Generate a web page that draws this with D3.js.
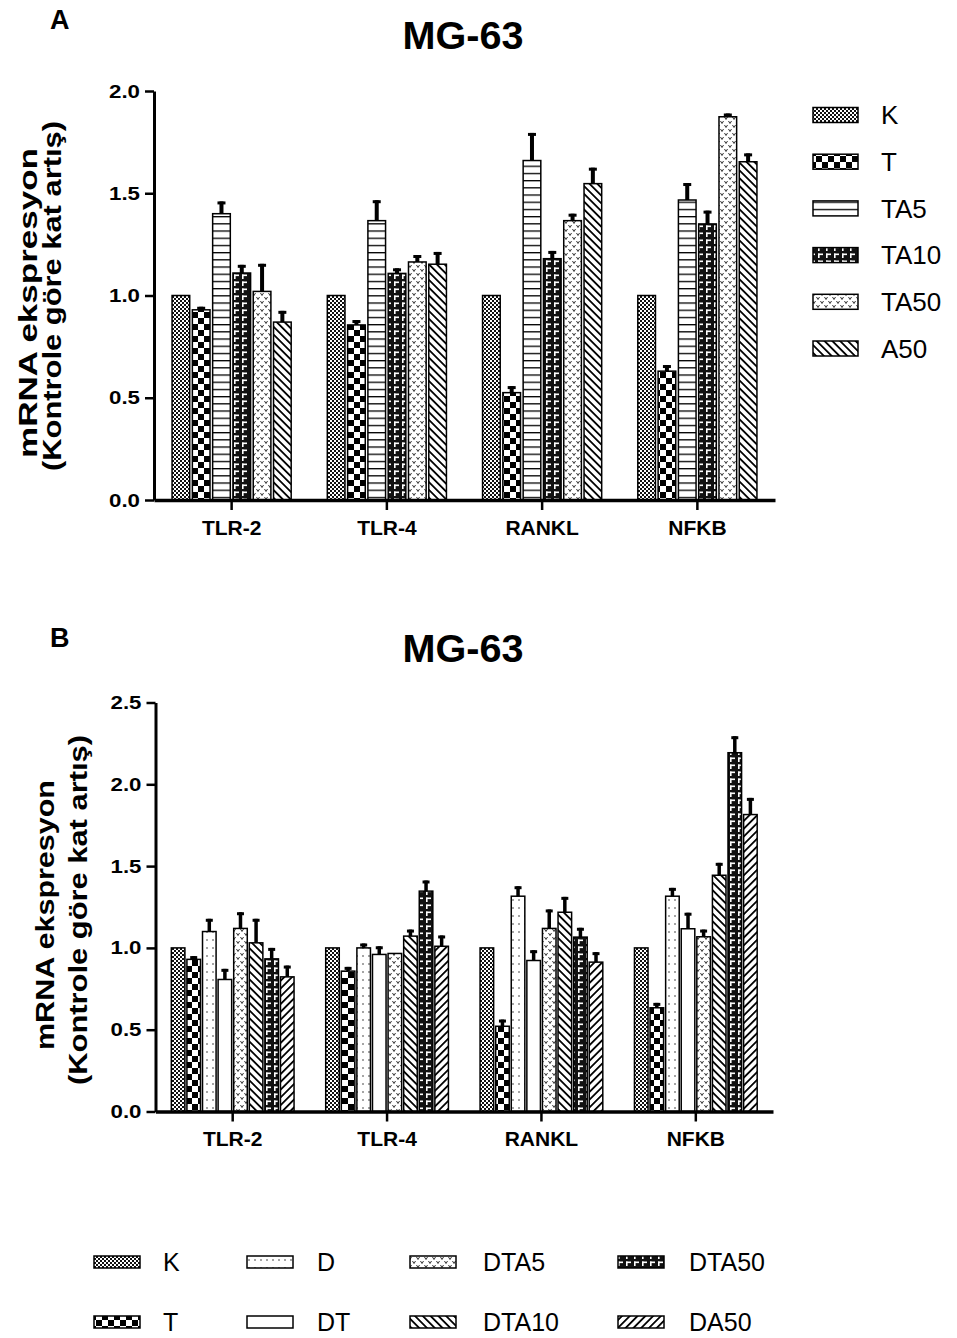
<!DOCTYPE html>
<html>
<head>
<meta charset="utf-8">
<script src="https://cdn.jsdelivr.net/npm/d3@7"></script>
<style>
  body { margin: 0; background: #fff; }
  svg { display: block; }
  text { font-family: Arial, "Liberation Sans", sans-serif; fill: #000; }
</style>
</head>
<body>
<div id="chart"></div>
<script>
const genes = ["TLR-2", "TLR-4", "RANKL", "NFKB"];

// panel A: series names, means and error (upper SEM)
const seriesA = ["K", "T", "TA5", "TA10", "TA50", "A50"];
const meanA_K    = [1, 1, 1, 1];
const meanA_T    = [0.93, 0.856, 0.525, 0.63];
const meanA_TA5  = [1.40, 1.366, 1.66, 1.467];
const meanA_TA10 = [1.11, 1.108, 1.18, 1.35];
const meanA_TA50 = [1.02, 1.164, 1.366, 1.874];
const meanA_A50  = [0.87, 1.153, 1.547, 1.654];
const errA_K    = [0, 0, 0, 0];
const errA_T    = [0.015, 0.024, 0.032, 0.03];
const errA_TA5  = [0.06, 0.10, 0.135, 0.083];
const errA_TA10 = [0.04, 0.025, 0.038, 0.065];
const errA_TA50 = [0.135, 0.034, 0.034, 0.016];
const errA_A50  = [0.055, 0.06, 0.078, 0.041];
const ticksA = [0, 0.5, 1.0, 1.5, 2.0];

// panel B
const seriesB = ["K", "T", "D", "DT", "DTA5", "DTA10", "DTA50", "DA50"];
const meanB_K     = [1, 1, 1, 1];
const meanB_T     = [0.93, 0.858, 0.521, 0.634];
const meanB_D     = [1.10, 1.0, 1.316, 1.316];
const meanB_DT    = [0.807, 0.96, 0.923, 1.117];
const meanB_DTA5  = [1.119, 0.966, 1.119, 1.068];
const meanB_DTA10 = [1.031, 1.072, 1.218, 1.444];
const meanB_DTA50 = [0.933, 1.347, 1.066, 2.193];
const meanB_DA50  = [0.823, 1.01, 0.913, 1.815];
const errB_K     = [0, 0, 0, 0];
const errB_T     = [0.02, 0.026, 0.041, 0.03];
const errB_D     = [0.078, 0.027, 0.061, 0.051];
const errB_DT    = [0.065, 0.05, 0.063, 0.098];
const errB_DTA5  = [0.099, 0, 0.116, 0.044];
const errB_DTA10 = [0.147, 0.04, 0.094, 0.076];
const errB_DTA50 = [0.067, 0.065, 0.057, 0.101];
const errB_DA50  = [0.069, 0.066, 0.061, 0.102];
const ticksB = [0, 0.5, 1.0, 1.5, 2.0, 2.5];

const title = "MG-63";
const yLabel1 = "mRNA ekspresyon";
const yLabel2 = "(Kontrole göre kat artış)";

const svg = d3.select("#chart").append("svg")
    .attr("width", 957)
    .attr("height", 1338);
svg.append("rect").attr("width", 957).attr("height", 1338).attr("fill", "#fff");

// ---------- fill patterns ----------
const defs = svg.append("defs");

function pattern(id, w, h, bg, draw, transform){
    const p = defs.append("pattern")
        .attr("id", id)
        .attr("patternUnits", "userSpaceOnUse")
        .attr("width", w)
        .attr("height", h);
    if (transform) p.attr("patternTransform", transform);
    p.append("rect").attr("width", w).attr("height", h).attr("fill", bg);
    draw(p);
}

pattern("pK", 4, 4, "#fff", p => {
    p.append("rect").attr("width", 2).attr("height", 2).attr("fill", "#111");
    p.append("rect").attr("x", 2).attr("y", 2).attr("width", 2).attr("height", 2).attr("fill", "#111");
});
pattern("pT", 12, 12, "#fff", p => {
    p.append("rect").attr("width", 6).attr("height", 6).attr("fill", "#000");
    p.append("rect").attr("x", 6).attr("y", 6).attr("width", 6).attr("height", 6).attr("fill", "#000");
});
pattern("pHLine", 10, 7.2, "#fff", p => {
    p.append("rect").attr("width", 10).attr("height", 1.3).attr("fill", "#000");
});
pattern("pBrick", 8, 7, "#111", p => {
    p.append("rect").attr("x", 2).attr("y", 1.5).attr("width", 5).attr("height", 1.6).attr("fill", "#fff");
    p.append("rect").attr("x", 2).attr("y", 1.5).attr("width", 1.6).attr("height", 4.5).attr("fill", "#fff");
});
pattern("pVee", 8, 8, "#fff", p => {
    p.append("path").attr("d", "M0.5,1 L2,3.5 L3.5,1 M4.5,5 L6,7.5 L7.5,5")
        .attr("fill", "none").attr("stroke", "#333").attr("stroke-width", 1);
});
pattern("pBack", 5.5, 5.5, "#fff", p => {
    p.append("rect").attr("width", 1.8).attr("height", 5.5).attr("fill", "#000");
}, "rotate(-45)");
pattern("pFwd", 5.5, 5.5, "#fff", p => {
    p.append("rect").attr("width", 1.8).attr("height", 5.5).attr("fill", "#000");
}, "rotate(45)");
pattern("pDot", 6, 8, "#fff", p => {
    p.append("circle").attr("cx", 3).attr("cy", 4).attr("r", 0.8).attr("fill", "#333");
});
pattern("pWhite", 10, 10, "#fff", p => {});

const patA = {K: "pK", T: "pT", TA5: "pHLine", TA10: "pBrick", TA50: "pVee", A50: "pBack"};
const patB = {K: "pK", T: "pT", D: "pDot", DT: "pWhite", DTA5: "pVee", DTA10: "pBack", DTA50: "pBrick", DA50: "pFwd"};

const tableA = [
    {name: "K", mean: meanA_K, err: errA_K},
    {name: "T", mean: meanA_T, err: errA_T},
    {name: "TA5", mean: meanA_TA5, err: errA_TA5},
    {name: "TA10", mean: meanA_TA10, err: errA_TA10},
    {name: "TA50", mean: meanA_TA50, err: errA_TA50},
    {name: "A50", mean: meanA_A50, err: errA_A50}
];
const tableB = [
    {name: "K", mean: meanB_K, err: errB_K},
    {name: "T", mean: meanB_T, err: errB_T},
    {name: "D", mean: meanB_D, err: errB_D},
    {name: "DT", mean: meanB_DT, err: errB_DT},
    {name: "DTA5", mean: meanB_DTA5, err: errB_DTA5},
    {name: "DTA10", mean: meanB_DTA10, err: errB_DTA10},
    {name: "DTA50", mean: meanB_DTA50, err: errB_DTA50},
    {name: "DA50", mean: meanB_DA50, err: errB_DA50}
];

function drawPanel(cfg){
    const g = svg.append("g");

    const x = d3.scaleBand().domain(genes).range([cfg.x0, cfg.x1]);
    const xs = d3.scaleBand()
        .domain(cfg.series)
        .range([0, x.bandwidth()])
        .paddingInner(0.13)
        .paddingOuter(cfg.outer);
    const y = d3.scaleLinear().domain([0, d3.max(cfg.ticks)]).range([cfg.yBottom, cfg.yTop]);

    const rows = cfg.table.flatMap(s => genes.map((gene, i) => ({
        gene, name: s.name, v: s.mean[i], e: s.err[i]
    })));

    g.selectAll("rect.bar")
        .data(rows)
        .join("rect")
        .attr("class", "bar")
        .attr("x", d => x(d.gene) + xs(d.name))
        .attr("y", d => y(d.v))
        .attr("width", xs.bandwidth())
        .attr("height", d => y(0) - y(d.v))
        .attr("fill", d => `url(#${cfg.pats[d.name]})`)
        .attr("stroke", "#000")
        .attr("stroke-width", 1.5);

    const errRows = rows.filter(d => d.e > 0);
    const cx = d => x(d.gene) + xs(d.name) + xs.bandwidth() / 2;
    g.selectAll("rect.stem")
        .data(errRows)
        .join("rect")
        .attr("class", "stem")
        .attr("x", d => cx(d) - cfg.stem / 2)
        .attr("y", d => y(d.v + d.e))
        .attr("width", cfg.stem)
        .attr("height", d => y(d.v) - y(d.v + d.e))
        .attr("fill", "#000");
    g.selectAll("rect.cap")
        .data(errRows)
        .join("rect")
        .attr("class", "cap")
        .attr("x", d => cx(d) - cfg.cap / 2)
        .attr("y", d => y(d.v + d.e))
        .attr("width", cfg.cap)
        .attr("height", 3)
        .attr("fill", "#000");

    // y axis
    const yAxis = g.append("g")
        .attr("transform", `translate(${cfg.x0},0)`)
        .call(d3.axisLeft(y).tickValues(cfg.ticks).tickFormat(d3.format(".1f")).tickSize(9).tickSizeOuter(0).tickPadding(5));
    yAxis.select(".domain").attr("stroke-width", 3);
    yAxis.selectAll(".tick line").attr("stroke-width", 2.5);
    yAxis.selectAll(".tick text")
        .attr("font-size", 19)
        .attr("font-weight", "bold")
        .attr("textLength", 31)
        .attr("lengthAdjust", "spacingAndGlyphs");

    // x axis
    const xAxis = g.append("g")
        .attr("transform", `translate(0,${cfg.yBottom})`)
        .call(d3.axisBottom(x).tickSize(10).tickSizeOuter(0).tickPadding(10));
    xAxis.select(".domain").attr("stroke-width", 3.5);
    xAxis.selectAll(".tick line").attr("stroke-width", 2.5);
    xAxis.selectAll(".tick text")
        .attr("font-size", 21)
        .attr("font-weight", "bold");

    // titles
    g.append("text")
        .attr("x", 463).attr("y", cfg.titleY)
        .attr("text-anchor", "middle")
        .attr("font-size", 38).attr("font-weight", "bold")
        .attr("textLength", 121).attr("lengthAdjust", "spacingAndGlyphs")
        .text(title);
    g.append("text")
        .attr("x", 50).attr("y", cfg.letterY)
        .attr("font-size", 27).attr("font-weight", "bold")
        .text(cfg.letter);

    const lab = cfg.label;
    g.append("text")
        .attr("transform", `translate(${lab.x1},${lab.c1}) rotate(-90)`)
        .attr("text-anchor", "middle")
        .attr("font-size", 26).attr("font-weight", "bold")
        .attr("textLength", lab.l1).attr("lengthAdjust", "spacingAndGlyphs")
        .text(yLabel1);
    g.append("text")
        .attr("transform", `translate(${lab.x2},${lab.c2}) rotate(-90)`)
        .attr("text-anchor", "middle")
        .attr("font-size", 26).attr("font-weight", "bold")
        .attr("textLength", lab.l2).attr("lengthAdjust", "spacingAndGlyphs")
        .text(yLabel2);
}

drawPanel({
    series: seriesA, table: tableA, pats: patA, ticks: ticksA,
    x0: 154, x1: 775, outer: 0.89, yBottom: 500, yTop: 91,
    stem: 4, cap: 8, titleY: 49, letter: "A", letterY: 29,
    label: {x1: 37, c1: 303, l1: 310, x2: 61, c2: 296, l2: 350}
});

drawPanel({
    series: seriesB, table: tableB, pats: patB, ticks: ticksB,
    x0: 155.5, x1: 773, outer: 1.015, yBottom: 1111.5, yTop: 702.5,
    stem: 3.5, cap: 7, titleY: 662, letter: "B", letterY: 647,
    label: {x1: 54, c1: 915, l1: 270, x2: 87, c2: 910, l2: 350}
});

// ---------- legends ----------
const legA = svg.append("g");
seriesA.forEach((name, i) => {
    const cy = 115 + i * 46.7;
    legA.append("rect")
        .attr("x", 813).attr("y", cy - 7.5)
        .attr("width", 45).attr("height", 15)
        .attr("fill", `url(#${patA[name]})`)
        .attr("stroke", "#000").attr("stroke-width", 1.5);
    legA.append("text")
        .attr("x", 881).attr("y", cy).attr("dy", "0.36em")
        .attr("font-size", 26)
        .text(name);
});

const legColsX = [94, 247, 410, 618];
const legTextX = [163, 317, 483, 689];
const legRowsY = [1262, 1322];
const legB = svg.append("g");
seriesB.forEach((name, i) => {
    const col = Math.floor(i / 2), row = i % 2;
    const cy = legRowsY[row];
    legB.append("rect")
        .attr("x", legColsX[col]).attr("y", cy - 6)
        .attr("width", 46).attr("height", 12)
        .attr("fill", `url(#${patB[name]})`)
        .attr("stroke", "#000").attr("stroke-width", 1.5);
    legB.append("text")
        .attr("x", legTextX[col]).attr("y", cy).attr("dy", "0.36em")
        .attr("font-size", 25)
        .text(name);
});
</script>
</body>
</html>
